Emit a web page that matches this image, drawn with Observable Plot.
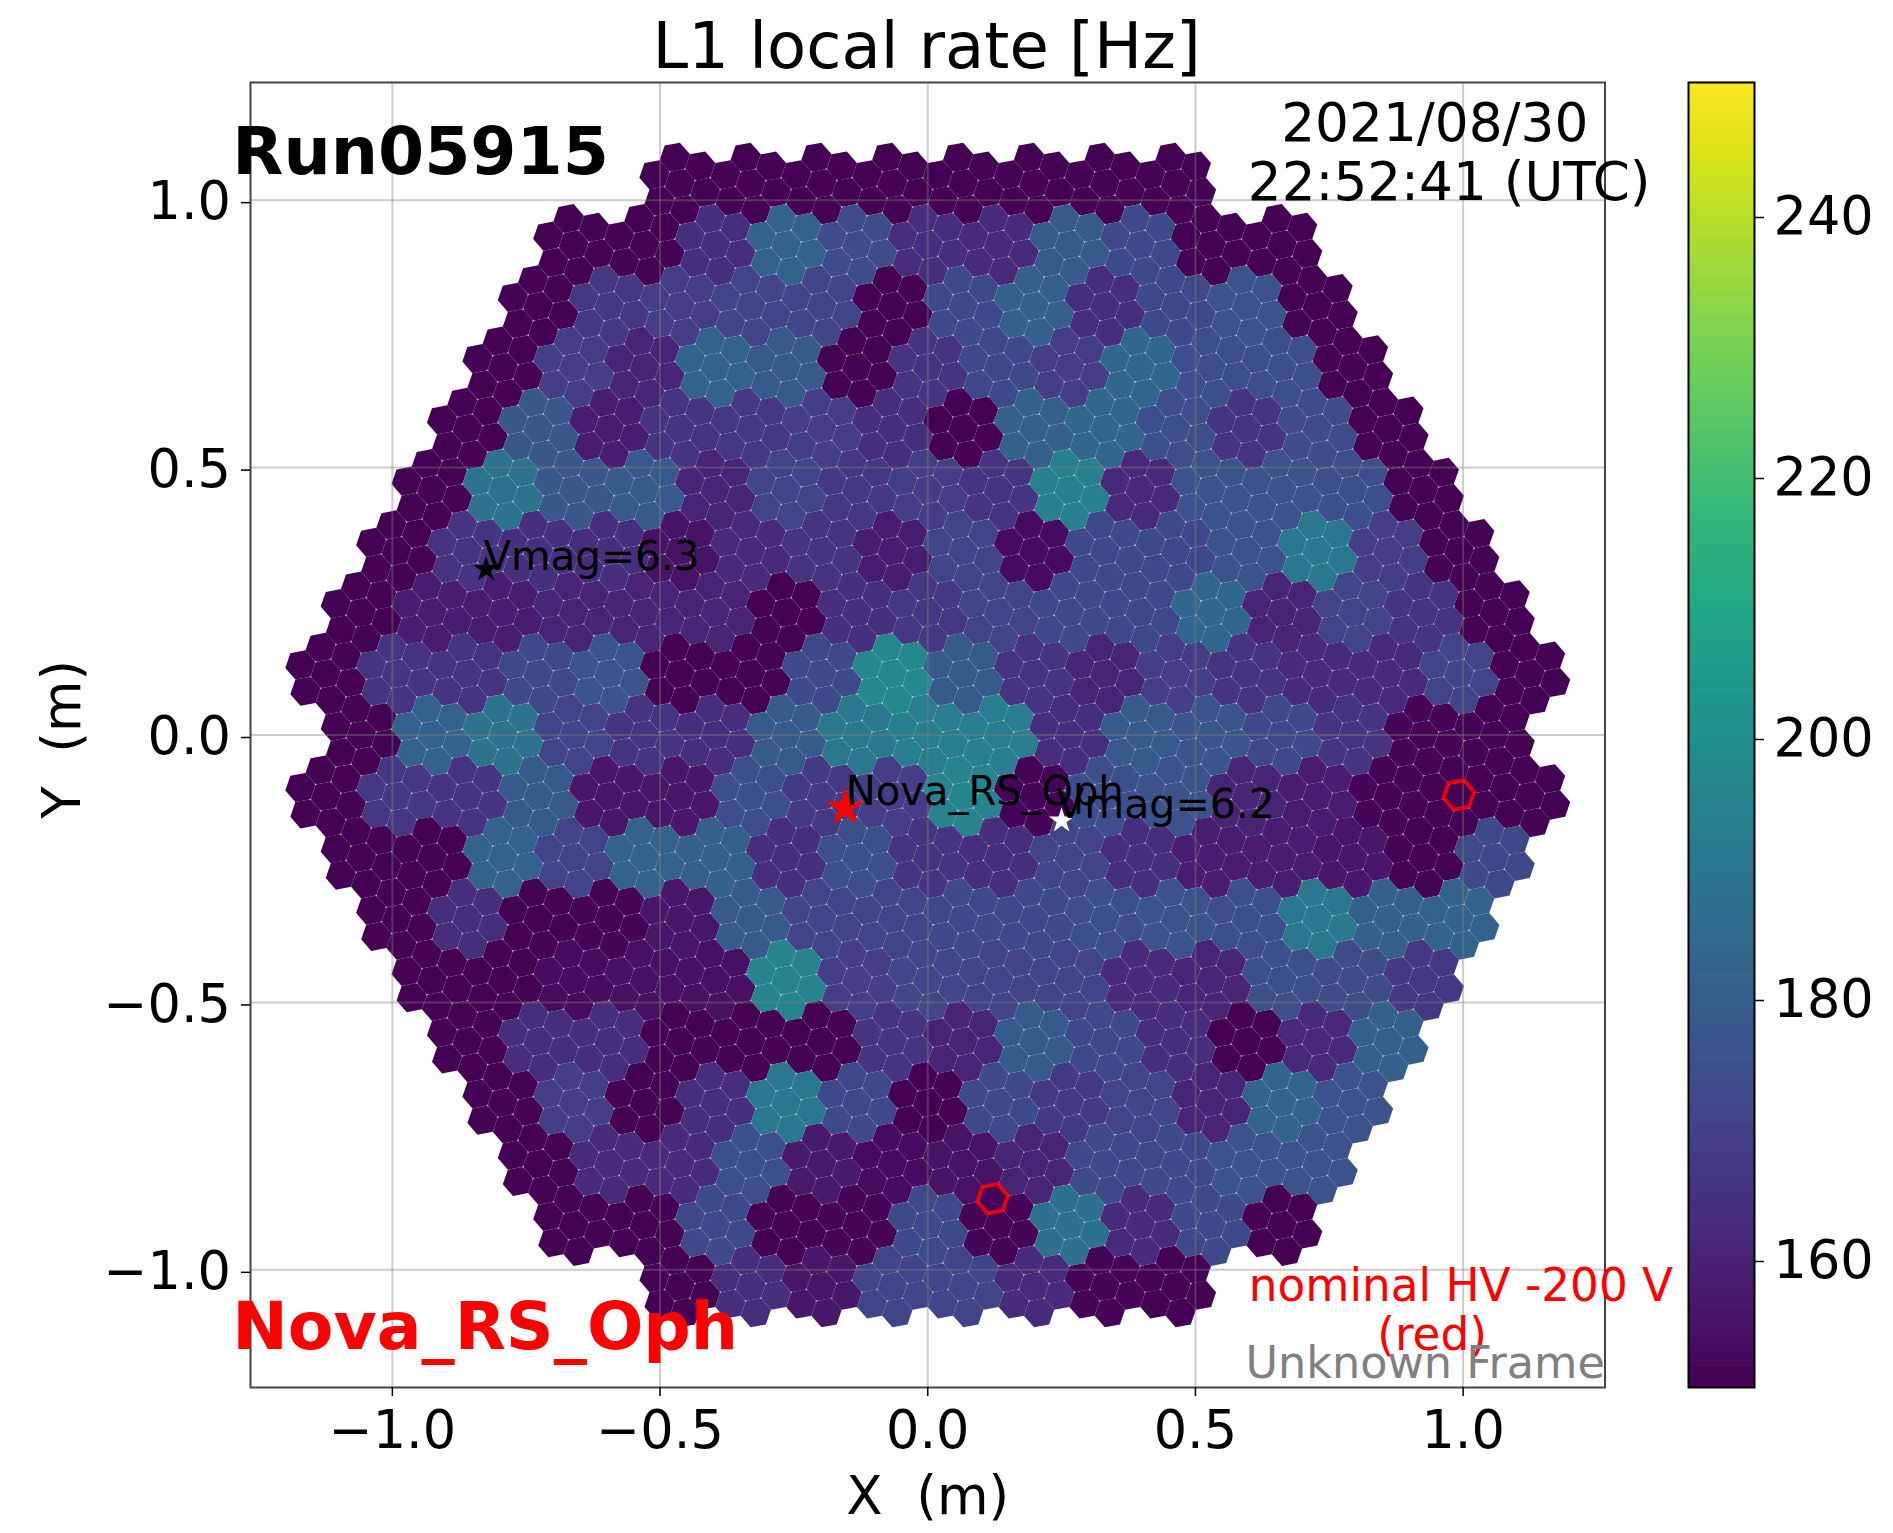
<!DOCTYPE html>
<html><head><meta charset="utf-8">
<style>html,body{margin:0;background:#fff}#wrap{position:relative;width:1893px;height:1533px;overflow:hidden}#wrap svg{position:absolute;top:0}</style>
<script src="https://cdn.jsdelivr.net/npm/d3@7"></script>
<script src="https://cdn.jsdelivr.net/npm/@observablehq/plot@0.6"></script>
</head><body><div id="wrap"></div>
<script>
// L1 rate [Hz] per 7-pixel module, top camera row to bottom row, left to right
const rowP9 = [150,150,150,150,150,150,150,150];
const rowP8 = [150,150,163,181,173,163,162,178,172,150,150];
const rowP7 = [150,166,168,170,170,150,172,180,163,172,175,150];
const rowP6 = [150,168,160,181,178,150,165,172,168,183,174,174,150];
const rowP5 = [150,177,158,165,166,168,163,150,180,183,174,165,173,150];
const rowP4 = [150,188,177,178,160,170,166,168,165,193,161,175,175,174,150];
const rowP3 = [150,165,164,163,155,162,165,158,170,153,172,172,175,190,168,150];
const rowP2 = [150,158,158,160,160,160,150,164,166,170,172,172,183,160,170,165,150];
const rowP1 = [150,165,165,172,176,150,150,172,197,178,165,160,168,165,162,162,170,150];
const row00 = [150,181,188,170,165,163,178,190,192,192,163,178,176,172,165,151,150];
const rowM1 = [150,166,165,178,156,156,174,167,168,195,151,174,175,160,158,151,150,150];
const rowM2 = [150,150,181,170,181,180,163,174,165,163,170,163,158,158,156,150,172];
const rowM3 = [150,163,150,151,156,178,170,170,172,172,174,175,174,190,180,181];
const rowM4 = [150,150,153,154,154,195,168,171,170,170,162,160,174,173,166];
const rowM5 = [150,163,163,150,150,150,165,160,178,172,163,150,161,180];
const rowM6 = [150,168,150,163,190,172,150,172,167,170,160,182,175];
const rowM7 = [150,162,162,174,157,153,155,160,172,172,175,175];
const rowM8 = [150,150,172,150,151,172,151,187,162,172,150];
const rowM9 = [150,163,156,170,170,162,151,150];
const cameraRows = [rowP9,rowP8,rowP7,rowP6,rowP5,rowP4,rowP3,rowP2,rowP1,row00,rowM1,rowM2,rowM3,rowM4,rowM5,rowM6,rowM7,rowM8,rowM9];

const xTicks = [-1,-0.5,0,0.5,1];
const yTicks = [-1,-0.5,0,0.5,1];
const barTicks = [160,180,200,220,240];
const hvOffPixels = [{x:0.992,y:-0.112},{x:0.121,y:-0.867}];

// Camera geometry: pixel pitch in metres, pixel lattice rotation in degrees
const pitch = 0.05, tilt = 40.893;
const moduleStep = pitch*Math.sqrt(7), rowStep = moduleStep*Math.sqrt(3)/2;
const offsets = [[0,0]].concat(d3.range(6).map(j=>{
  const a=(tilt+60*j)*Math.PI/180; return [pitch*Math.cos(a),pitch*Math.sin(a)];
}));
const pixels = [];
cameraRows.forEach((vals,ri)=>{
  const my = (9-ri)*rowStep;
  vals.forEach((v,i)=>{
    const mx = (i-(vals.length-1)/2)*moduleStep;
    offsets.forEach(([dx,dy])=>pixels.push({x:mx+dx,y:my+dy,rate:v}));
  });
});
// Junctions where three pixels meet show as small light specks in the reference
const corners = new Map();
pixels.forEach(p=>{
  for(let j=0;j<6;j++){
    const a=(tilt+30+60*j)*Math.PI/180, cx=p.x+pitch/Math.sqrt(3)*Math.cos(a), cy=p.y+pitch/Math.sqrt(3)*Math.sin(a);
    const key=Math.round(cx*500)+"_"+Math.round(cy*500);
    const e=corners.get(key)||{x:cx,y:cy,n:0}; e.n++; corners.set(key,e);
  }
});
const junctions=[...corners.values()].filter(e=>e.n===3);

const note = (label,x,y,o={}) => Plot.text([label],{x:()=>x,y:()=>y,text:d=>d,fontFamily:"DejaVu Sans",clip:false,...o});

const main = Plot.plot({
  width:1893,height:1533,
  marginLeft:250,marginRight:288.5,marginTop:82,marginBottom:146,
  style:{fontFamily:"DejaVu Sans",background:"transparent",color:"#000"},
  x:{domain:[-1.265,1.265]},
  y:{domain:[-1.22,1.22]},
  color:{type:"linear",scheme:"viridis",domain:[150,250]},
  marks:[
    Plot.dot(pixels,{x:"x",y:"y",fill:"rate",symbol:"hexagon",r:13.38,rotate:-tilt}),
    Plot.dot(junctions,{x:"x",y:"y",r:1,fill:"white",fillOpacity:0.5}),
    Plot.ruleX(xTicks,{stroke:"#808080",strokeOpacity:0.4,strokeWidth:2}),
    Plot.ruleY(yTicks,{stroke:"#808080",strokeOpacity:0.4,strokeWidth:2}),
    Plot.dot(hvOffPixels,{x:"x",y:"y",symbol:"hexagon",r:13.5,rotate:-tilt,fill:"none",stroke:"red",strokeWidth:4,strokeOpacity:0.85}),
    Plot.dot([{x:-0.825,y:0.31}],{x:"x",y:"y",symbol:"star",fill:"black",r:8.2}),
    Plot.dot([{x:-0.154,y:-0.136}],{x:"x",y:"y",symbol:"star",fill:"red",r:12}),
    Plot.dot([{x:0.25,y:-0.16}],{x:"x",y:"y",symbol:"star",fill:"white",r:8}),
    Plot.frame({stroke:"#444",strokeWidth:2}),
    Plot.axisX({ticks:xTicks,tickFormat:".1f",tickSize:9,tickPadding:14,fontSize:52.5,label:null,strokeWidth:1.5}),
    Plot.axisY({ticks:yTicks,tickFormat:".1f",tickSize:9,tickPadding:10.5,fontSize:52.5,label:null,strokeWidth:1.5,dy:2.5}),
    note("L1 local rate [Hz]",-0.002,1.285,{fontSize:64}),
    note("X\u00a0\u00a0(m)",0,-1.425,{fontSize:53}),
    note("Y\u00a0\u00a0(m)",-1.615,-0.008,{fontSize:53,rotate:-90}),
    note("Run05915",-1.299,1.088,{fontSize:66.4,fontWeight:"bold",textAnchor:"start"}),
    note("Nova_RS_Oph",-1.299,-1.108,{fontSize:66.4,fontWeight:"bold",textAnchor:"start",fill:"red"}),
    note("2021/08/30",0.947,1.142,{fontSize:53.3}),
    note("22:52:41 (UTC)",0.974,1.032,{fontSize:53.2}),
    note("nominal HV -200 V",0.996,-1.032,{fontSize:45.3,fill:"red"}),
    note("(red)",0.942,-1.122,{fontSize:45.3,fill:"red"}),
    note("Unknown Frame",0.929,-1.176,{fontSize:44.5,fill:"#808080"}),
    note("Vmag=6.3",-0.83,0.333,{fontSize:40.5,textAnchor:"start"}),
    note("Nova_RS_Oph",-0.153,-0.106,{fontSize:40,textAnchor:"start"}),
    note("Vmag=6.2",0.24,-0.131,{fontSize:41,textAnchor:"start"})
  ]
});
main.style.left="0";

const barCells = d3.range(150,250,0.5);
const bar = Plot.plot({
  width:253,height:1533,
  marginLeft:48,marginRight:139,marginTop:82,marginBottom:146,
  style:{fontFamily:"DejaVu Sans",background:"transparent",color:"#000"},
  x:{domain:[0,1],axis:null},
  y:{domain:[150,250],axis:null},
  color:{type:"linear",scheme:"viridis",domain:[150,250]},
  marks:[
    Plot.rect(barCells,{x1:()=>0,x2:()=>1,y1:d=>d,y2:d=>d+0.55,fill:d=>d}),
    Plot.frame({stroke:"#000",strokeWidth:2}),
    Plot.axisY({anchor:"right",ticks:barTicks,tickSize:9,tickPadding:10,fontSize:52.5,label:null,strokeWidth:1.5,dy:4.5})
  ]
});
bar.style.left="1640px";
document.getElementById("wrap").append(main,bar);
</script></body></html>
